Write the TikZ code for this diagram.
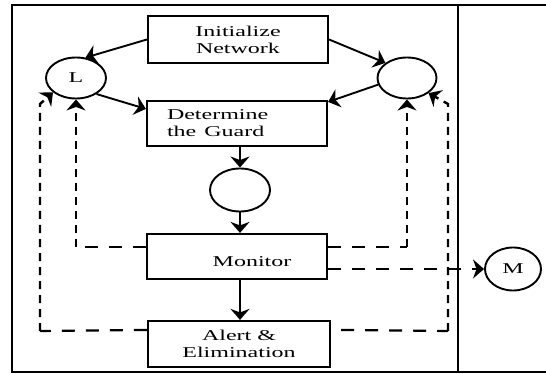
\documentclass[tikz,border=0pt]{standalone}
\usepackage{fontspec}
\setmainfont{Liberation Serif}
\usetikzlibrary{arrows.meta,shapes.geometric,calc}
\newcommand{\sx}[1]{\scalebox{1.6}[1]{#1}}
\begin{document}
\begin{tikzpicture}[x=1pt,y=-1pt,
  txt/.style={font=\fontsize{15}{17}\selectfont},
  box/.style={draw,line width=2.2pt,rectangle,inner sep=0pt,txt,align=center},
  circ/.style={draw,line width=1.9pt,ellipse,inner sep=0pt,txt},
  tip/.style={-{Stealth[length=11pt,width=19pt,inset=3.5pt]}},
  arr/.style={line width=1.9pt,tip},
  hd/.style={line width=2.2pt,dash pattern=on 13pt off 11pt},
  vd/.style={line width=2.4pt,dash pattern=on 8pt off 6pt},
  frame/.style={line width=2.2pt}
]
\useasboundingbox (0,0) rectangle (546,374);
\coordinate (f1) at (546,5);
\coordinate (f2) at (12,5);
\coordinate (f3) at (12,372);
\coordinate (f4) at (546,372);
\coordinate (d1) at (458,5);
\coordinate (d2) at (458,372);
\draw[frame] (f1) -- (f2) -- (f3) -- (f4);
\draw[line width=2.6pt] (d1) -- (d2);

\node[box,minimum width=180pt,minimum height=47pt] (init) at (238,39.5) {\sx{Initialize}\\\sx{Network}};
\node[box,minimum width=180pt,minimum height=45pt,text width=140pt,align=left] (det) at (237,123.5) {\sx{Determine}\\\sx{the Guard}};
\node[box,minimum width=180pt,minimum height=45pt,label={[txt,shift={(15,5.5)}]center:\sx{Monitor}}] (mon) at (237,256.5) {};
\node[box,minimum width=182pt,minimum height=46pt] (alert) at (239,344) {\sx{Alert \&}\\\sx{Elimination}};

\node[circ,minimum width=60pt,minimum height=41pt] (L) at (76,78) {\sx{L}};
\node[circ,minimum width=59pt,minimum height=41pt] (R) at (407,78) {};
\node[circ,minimum width=60pt,minimum height=43pt] (mid) at (240,190) {};
\node[circ,minimum width=56pt,minimum height=43pt] (M) at (513,269) {\sx{M}};

\draw[arr] (init.west) -- (L.65);
\draw[arr] (init.east) -- (R.145);
\draw[arr] (L.-38) -- ($(det.north west)+(0,9)$);
\draw[arr] (R.193) -- ($(det.north east)+(0,2)$);
\draw[arr] (mid|-det.south) -- (mid.north);
\draw[arr] (mid.south) -- (mid|-mon.north);
\draw[arr] (mid|-mon.south) -- (mid|-alert.north);

\coordinate (a1) at ($(alert.north west)+(0,10)$);
\coordinate (c1) at (40,331);
\coordinate (c1t) at (40,104);
\draw[hd] (a1) -- (c1);
\draw[vd,tip] (c1) -- (c1t) -- (L.212);

\coordinate (m1) at ($(mon.north west)+(0,14)$);
\coordinate (c2) at (L.south |- m1);
\draw[hd] (m1) -- (c2);
\draw[vd,tip] (c2) -- (L.south);

\coordinate (m2) at ($(mon.north east)+(0,14)$);
\coordinate (c3) at (R.south |- m2);
\draw[hd] (m2) -- (c3);
\draw[vd,tip] (c3) -- (R.south);

\coordinate (a2) at ($(alert.north east)+(10,10)$);
\coordinate (c4) at (448,331);
\coordinate (c4t) at (448,104);
\draw[hd] (a2) -- (c4);
\draw[vd,tip] (c4) -- (c4t) -- (R.-35);

\draw[hd,tip] (mon.east |- M.west) -- (M.west);
\end{tikzpicture}
\end{document}
